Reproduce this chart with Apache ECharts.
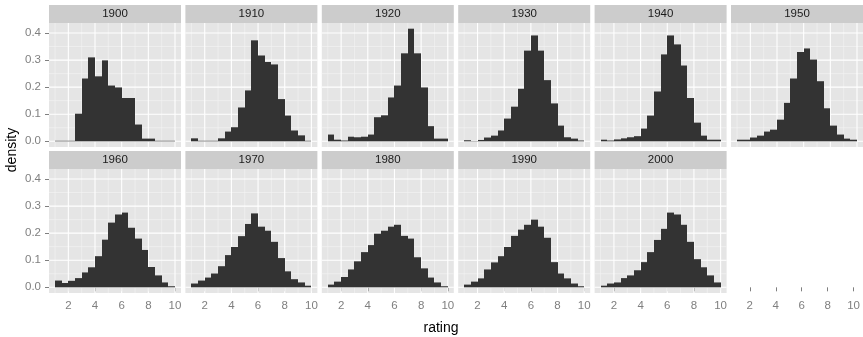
<!DOCTYPE html>
<html>
<head>
<meta charset="utf-8">
<script src="https://cdn.jsdelivr.net/npm/echarts@6/dist/echarts.min.js"></script>
<style>
  html, body { margin: 0; padding: 0; background: #fff; }
  #chart { width: 863px; height: 337px; }
</style>
</head>
<body>
<div id="chart"></div>
<script>
// decades shown as facets
var decades = ['1900', '1910', '1920', '1930', '1940', '1950', '1960', '1970', '1980', '1990', '2000'];

// left edge of every histogram bin (binwidth 0.5)
var binStarts = [1.0, 1.5, 2.0, 2.5, 3.0, 3.5, 4.0, 4.5, 5.0, 5.5, 6.0, 6.5, 7.0, 7.5, 8.0, 8.5, 9.0, 9.5];
var binWidth = 0.5;

// density per bin
var d1900 = [0.002, 0.002, 0.002, 0.102, 0.232, 0.310, 0.240, 0.299, 0.206, 0.199, 0.160, 0.160, 0.062, 0.010, 0.010, 0.002, 0.002, 0.002];
var d1910 = [0.011, 0.002, 0.002, 0.002, 0.011, 0.036, 0.052, 0.125, 0.188, 0.373, 0.317, 0.293, 0.284, 0.156, 0.095, 0.040, 0.022, 0.002];
var d1920 = [0.025, 0.006, 0.003, 0.017, 0.015, 0.017, 0.025, 0.089, 0.096, 0.162, 0.206, 0.325, 0.416, 0.325, 0.199, 0.056, 0.010, 0.010];
var d1930 = [0.004, 0.001, 0.005, 0.014, 0.021, 0.040, 0.084, 0.128, 0.194, 0.335, 0.391, 0.335, 0.226, 0.140, 0.058, 0.015, 0.010, 0.003];
var d1940 = [0.006, 0.003, 0.007, 0.011, 0.015, 0.019, 0.047, 0.095, 0.184, 0.321, 0.391, 0.358, 0.280, 0.160, 0.069, 0.021, 0.006, 0.006];
var d1950 = [0.006, 0.006, 0.014, 0.021, 0.036, 0.043, 0.080, 0.142, 0.232, 0.330, 0.343, 0.302, 0.222, 0.122, 0.058, 0.025, 0.010, 0.006];
var d1960 = [0.025, 0.016, 0.024, 0.034, 0.055, 0.074, 0.115, 0.176, 0.239, 0.269, 0.276, 0.220, 0.180, 0.138, 0.075, 0.044, 0.018, 0.004];
var d1970 = [0.014, 0.025, 0.036, 0.051, 0.078, 0.119, 0.149, 0.189, 0.234, 0.273, 0.224, 0.209, 0.168, 0.108, 0.059, 0.030, 0.018, 0.006];
var d1980 = [0.010, 0.021, 0.038, 0.066, 0.096, 0.130, 0.156, 0.198, 0.209, 0.224, 0.231, 0.190, 0.180, 0.111, 0.070, 0.036, 0.018, 0.004];
var d1990 = [0.010, 0.021, 0.033, 0.066, 0.092, 0.115, 0.149, 0.190, 0.213, 0.231, 0.250, 0.224, 0.183, 0.093, 0.051, 0.033, 0.014, 0.004];
var d2000 = [0.006, 0.014, 0.018, 0.034, 0.044, 0.063, 0.093, 0.130, 0.175, 0.216, 0.276, 0.269, 0.231, 0.168, 0.104, 0.074, 0.044, 0.018];
var densities = [d1900, d1910, d1920, d1930, d1940, d1950, d1960, d1970, d1980, d1990, d2000];

// ticks and grid lines
var xTicks = [2, 4, 6, 8, 10];
var xMinor = [1, 3, 5, 7, 9];
var yTicks = [0, 0.1, 0.2, 0.3, 0.4];
var yMinor = [0.05, 0.15, 0.25, 0.35];

// axis ranges (ggplot adds 5% on each side)
var xMin = 0.55, xMax = 10.45;
var yMin = -0.021, yMax = 0.437;

// layout
var nCols = 6;
var panelLeft = 49, panelStep = 136.4, panelW = 132, panelH = 124;
var rowTop = [23, 169];
var stripH = 18;
var font = "'Liberation Sans', Arial, sans-serif";
var grey50 = '#7F7F7F';

function renderGridLine(params, api) {
    var v = api.value(0), horiz = api.value(1), major = api.value(2);
    var p0, p1;
    if (horiz) {
        p0 = api.coord([xMin, v]);
        p1 = api.coord([xMax, v]);
    } else {
        p0 = api.coord([v, yMin]);
        p1 = api.coord([v, yMax]);
    }
    return {
        type: 'line',
        silent: true,
        shape: { x1: p0[0], y1: p0[1], x2: p1[0], y2: p1[1] },
        style: { stroke: major ? '#FFFFFF' : '#F2F2F2', lineWidth: major ? 1.1 : 0.7 }
    };
}

function renderBar(params, api) {
    var x0 = api.value(0), y = api.value(1);
    var p0 = api.coord([x0, y]);
    var p1 = api.coord([x0 + binWidth, 0]);
    // snap the sides to whole pixels so neighbouring bars meet without seams
    var xa = Math.round(p0[0]), xb = Math.round(p1[0]);
    return {
        type: 'rect',
        shape: { x: xa, y: p0[1], width: xb - xa, height: p1[1] - p0[1] },
        style: { fill: '#333333' }
    };
}

function gridLineData() {
    var out = [];
    xMinor.forEach(function (v) { out.push([v, 0, 0]); });
    yMinor.forEach(function (v) { out.push([v, 1, 0]); });
    xTicks.forEach(function (v) { out.push([v, 0, 1]); });
    yTicks.forEach(function (v) { out.push([v, 1, 1]); });
    return out;
}

function fmtY(v) { return Number(v).toFixed(1); }

var grids = [], xAxes = [], yAxes = [], series = [], graphics = [];

// one extra slot (index 11) only carries the x axis under the 1950 column
for (var i = 0; i < decades.length + 1; i++) {
    var col = i % nCols, row = Math.floor(i / nCols);
    var pLeft = panelLeft + col * panelStep;
    var pTop = rowTop[row];
    var isPanel = i < decades.length;
    var showX = row === 1;
    var showY = col === 0 && isPanel;

    grids.push({
        left: pLeft, top: pTop, width: panelW, height: panelH,
        show: isPanel, backgroundColor: '#E5E5E5', borderWidth: 0
    });

    xAxes.push({
        gridIndex: i, type: 'value', min: xMin, max: xMax,
        axisLine: { show: false },
        splitLine: { show: false },
        axisTick: { show: showX, customValues: xTicks, length: 4, lineStyle: { color: grey50 } },
        axisLabel: { show: showX, customValues: xTicks, color: grey50, fontSize: 11.5, fontFamily: font, margin: 7 }
    });

    yAxes.push({
        gridIndex: i, type: 'value', min: yMin, max: yMax, show: isPanel,
        axisLine: { show: false },
        splitLine: { show: false },
        axisTick: { show: showY, customValues: yTicks, length: 4, lineStyle: { color: grey50 } },
        axisLabel: {
            show: showY, customValues: yTicks, color: grey50, fontSize: 11.5, fontFamily: font, margin: 8,
            formatter: fmtY
        }
    });

    if (!isPanel) continue;

    series.push({
        type: 'custom', xAxisIndex: i, yAxisIndex: i, z: 1, silent: true,
        renderItem: renderGridLine, data: gridLineData()
    });
    series.push({
        type: 'custom', xAxisIndex: i, yAxisIndex: i, z: 2, silent: true,
        renderItem: renderBar,
        data: binStarts.map(function (b, k) { return [b, densities[i][k]]; })
    });

    // facet strip
    graphics.push({
        type: 'rect', silent: true,
        shape: { x: pLeft, y: pTop - stripH, width: panelW, height: stripH },
        style: { fill: '#CCCCCC' }
    });
    graphics.push({
        type: 'text', silent: true,
        x: pLeft + panelW / 2, y: pTop - stripH / 2,
        style: { text: decades[i], fill: '#1A1A1A', fontSize: 11.5, fontFamily: font, align: 'center', verticalAlign: 'middle' }
    });
}

graphics.push({
    type: 'text', silent: true, x: 441, y: 328,
    style: { text: 'rating', fill: '#000', fontSize: 14, fontFamily: font, align: 'center', verticalAlign: 'middle' }
});
graphics.push({
    type: 'text', silent: true, x: 12, y: 150, rotation: Math.PI / 2,
    style: { text: 'density', fill: '#000', fontSize: 14, fontFamily: font, align: 'center', verticalAlign: 'middle' }
});

var myChart = echarts.init(document.getElementById('chart'));
myChart.setOption({
    animation: false,
    backgroundColor: '#FFFFFF',
    grid: grids,
    xAxis: xAxes,
    yAxis: yAxes,
    series: series,
    graphic: graphics
});
</script>
</body>
</html>
